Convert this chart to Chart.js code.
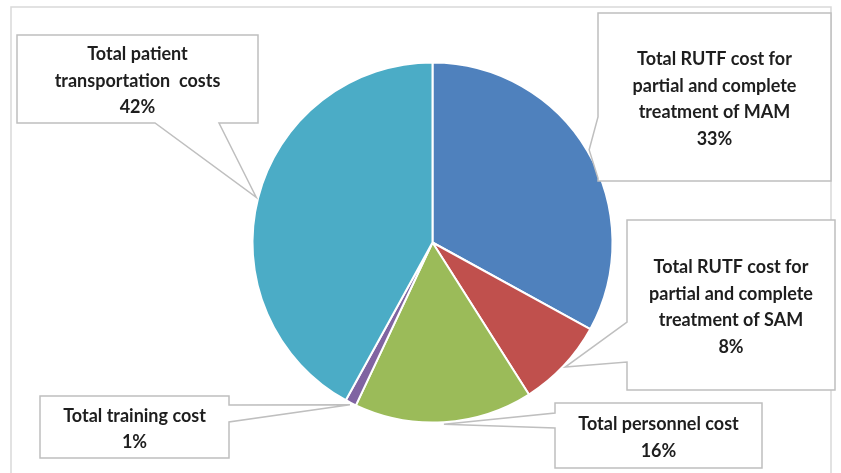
<!DOCTYPE html>
<html>
<head>
<meta charset="utf-8">
<script src="https://cdn.jsdelivr.net/npm/chart.js@4.4.1/dist/chart.umd.min.js"></script>
<style>
  html, body { margin: 0; padding: 0; background: #fff; }
  #wrap { width: 841px; height: 473px; position: relative; }
</style>
</head>
<body>
<div id="wrap"><canvas id="grafico"></canvas></div>
<script>
// Dados do gráfico
const categories = [
    ['Total RUTF cost for', 'partial and complete', 'treatment of MAM'],
    ['Total RUTF cost for', 'partial and complete', 'treatment of SAM'],
    ['Total personnel cost'],
    ['Total training cost'],
    ['Total patient', 'transportation  costs']
];
const shares = [33, 8, 16, 1, 42];
const sliceColors = ['#4F81BD', '#C0504D', '#9BBB59', '#8064A2', '#4BACC6'];

// Caixas dos rótulos: [x, y, largura, altura], lado do ponteiro e base do ponteiro
const callouts = [
    { box: [598, 13, 233, 168], side: 'left', base: [117, 178] },
    { box: [627, 220, 208, 170], side: 'left', base: [322, 362] },
    { box: [555, 403, 207, 65], side: 'left', base: [413, 428] },
    { box: [40, 396, 189, 62], side: 'right', base: [405, 422] },
    { box: [17, 35, 241, 88], side: 'bottom', base: [155, 219] }
];

function calloutPath(ctx, c, tx, ty) {
    const [x, y, w, h] = c.box;
    const [a, b] = c.base;
    ctx.beginPath();
    ctx.moveTo(x, y);
    if (c.side === 'top') { ctx.lineTo(a, y); ctx.lineTo(tx, ty); ctx.lineTo(b, y); }
    ctx.lineTo(x + w, y);
    if (c.side === 'right') { ctx.lineTo(x + w, a); ctx.lineTo(tx, ty); ctx.lineTo(x + w, b); }
    ctx.lineTo(x + w, y + h);
    if (c.side === 'bottom') { ctx.lineTo(b, y + h); ctx.lineTo(tx, ty); ctx.lineTo(a, y + h); }
    ctx.lineTo(x, y + h);
    if (c.side === 'left') { ctx.lineTo(x, b); ctx.lineTo(tx, ty); ctx.lineTo(x, a); }
    ctx.closePath();
}

const pluginRotulos = {
    id: 'rotulos',
    beforeDraw(chart) {
        const ctx = chart.ctx;
        ctx.save();
        ctx.fillStyle = '#fff';
        ctx.fillRect(0, 0, chart.width, chart.height);
        ctx.strokeStyle = '#d9d9d9';
        ctx.lineWidth = 1.5;
        ctx.strokeRect(11, 7, 820, 480);
        ctx.restore();
    },
    afterDatasetsDraw(chart) {
        const ctx = chart.ctx;
        const total = shares.reduce((s, v) => s + v, 0);
        const arcs = chart.getDatasetMeta(0).data;
        arcs.forEach((arc, i) => {
            const p = arc.getProps(['x', 'y', 'startAngle', 'endAngle', 'outerRadius'], true);
            const mid = (p.startAngle + p.endAngle) / 2;
            const tx = p.x + Math.cos(mid) * (p.outerRadius + 2);
            const ty = p.y + Math.sin(mid) * (p.outerRadius + 2);
            const c = callouts[i];
            ctx.save();
            calloutPath(ctx, c, tx, ty);
            ctx.fillStyle = '#fff';
            ctx.fill();
            ctx.strokeStyle = '#bfbfbf';
            ctx.lineWidth = 1.5;
            ctx.stroke();

            const lines = categories[i].concat([Math.round(shares[i] / total * 100) + '%']);
            const lh = 26.5;
            const [bx, by, bw, bh] = c.box;
            const cx = bx + bw / 2;
            const cy = by + bh / 2;
            ctx.fillStyle = '#1e1e1e';
            ctx.font = 'bold 18px Lato';
            ctx.textAlign = 'center';
            ctx.textBaseline = 'middle';
            lines.forEach((t, k) => {
                ctx.fillText(t, cx, cy + (k - (lines.length - 1) / 2) * lh + 2);
            });
            ctx.restore();
        });
    }
};

const ctx = document.getElementById('grafico');

const graficoPizza = new Chart(ctx, {
    type: 'pie',
    data: {
        labels: categories.map(l => l.join(' ')),
        datasets: [{
            data: shares,
            backgroundColor: sliceColors,
            borderColor: '#ffffff',
            borderWidth: 2
        }]
    },
    options: {
        responsive: true,
        maintainAspectRatio: false,
        animation: false,
        layout: {
            padding: { left: 251.5, right: 227.5, top: 61.5, bottom: 49.5 }
        },
        plugins: {
            legend: { display: false },
            tooltip: { enabled: false }
        }
    },
    plugins: [pluginRotulos]
});
</script>
</body>
</html>
